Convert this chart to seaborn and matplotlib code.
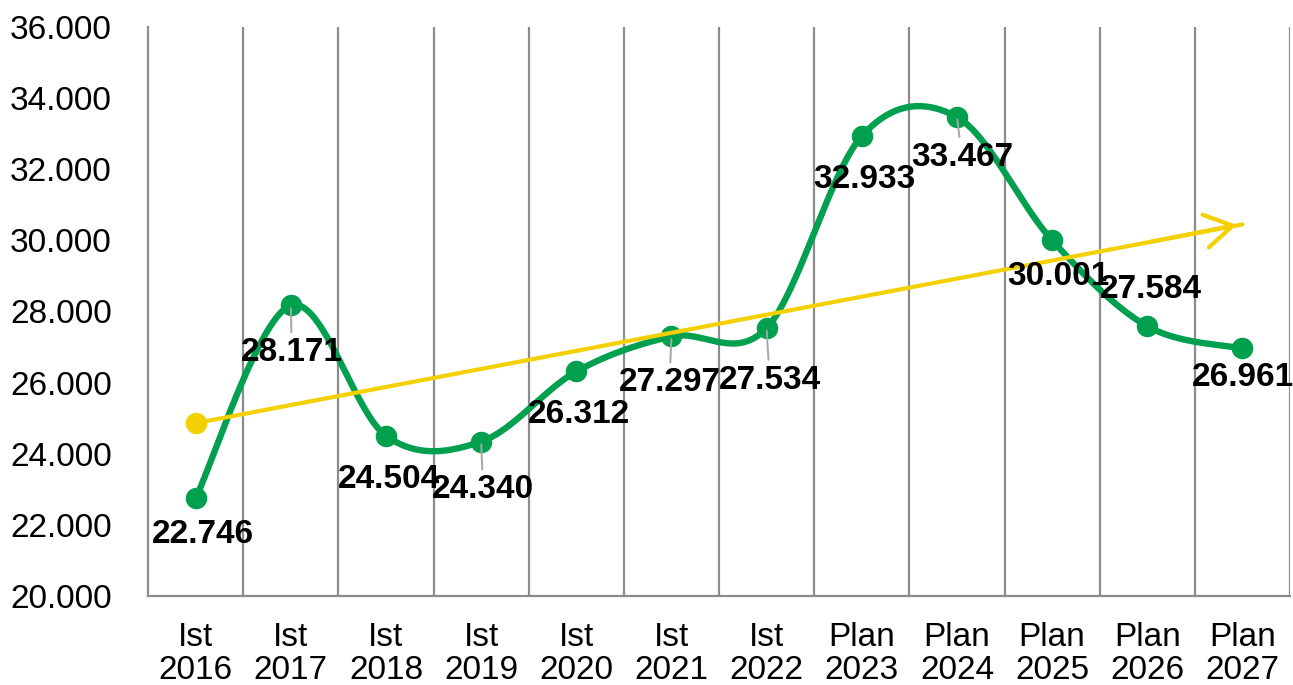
import numpy as np
import pandas as pd
import matplotlib
matplotlib.use("Agg")
import matplotlib.pyplot as plt
import seaborn as sns

# data
categories = ["Ist\n2016", "Ist\n2017", "Ist\n2018", "Ist\n2019", "Ist\n2020", "Ist\n2021",
              "Ist\n2022", "Plan\n2023", "Plan\n2024", "Plan\n2025", "Plan\n2026", "Plan\n2027"]
values = [22746, 28171, 24504, 24340, 26312, 27297, 27534, 32933, 33467, 30001, 27584, 26961]
y_ticks = [20000, 22000, 24000, 26000, 28000, 30000, 32000, 34000, 36000]

# label placement (pixels, relative to the point) and which labels get a leader line
label_offsets = [(7, -36), (1, -47), (3, -44), (2, -48), (3, -43), (-2, -46),
                 (3, -52), (3, -43), (5, -40), (6, -36), (4, 37), (0, -29)]
leader_idx = {1, 3, 5, 6, 8}

GREEN = "#00A04F"
YELLOW = "#F5D000"
GRID = "#8C8C8C"
FS = 24


def de_num(v):
    return f"{v:,.0f}".replace(",", ".")


def smooth_curve(xs, ys, n=40):
    # Excel style smoothed line: cubic bezier with catmull-rom control points
    xs = np.asarray(xs, float)
    ys = np.asarray(ys, float)
    px = np.concatenate([[xs[0]], xs, [xs[-1]]])
    py = np.concatenate([[ys[0]], ys, [ys[-1]]])
    out_x, out_y = [], []
    t = np.linspace(0, 1, n)
    for i in range(1, len(px) - 2):
        p0 = np.array([px[i], py[i]])
        p3 = np.array([px[i + 1], py[i + 1]])
        p1 = p0 + (p3 - np.array([px[i - 1], py[i - 1]])) / 6
        p2 = p3 - (np.array([px[i + 2], py[i + 2]]) - p0) / 6
        b = ((1 - t) ** 3)[:, None] * p0 + (3 * (1 - t) ** 2 * t)[:, None] * p1 \
            + (3 * (1 - t) * t ** 2)[:, None] * p2 + (t ** 3)[:, None] * p3
        out_x.extend(b[:, 0])
        out_y.extend(b[:, 1])
    return np.array(out_x), np.array(out_y)


df = pd.DataFrame({"x": np.arange(len(categories)), "value": values})

sns.set_theme(style="white")
plt.rcParams["font.family"] = ["Liberation Sans", "DejaVu Sans"]

fig = plt.figure(figsize=(12.93, 6.85), dpi=100)
ax = fig.add_axes([0.1145, 0.13, 0.8832, 0.8306])

# smoothed green line + markers
sx, sy = smooth_curve(df["x"], df["value"])
sns.lineplot(x=sx, y=sy, ax=ax, color=GREEN, linewidth=4.6, sort=False, zorder=3)
sns.scatterplot(data=df, x="x", y="value", ax=ax, color=GREEN, s=240,
                edgecolor=GREEN, linewidth=0, zorder=4)

# linear trend (yellow arrow)
slope, intercept = np.polyfit(df["x"], df["value"], 1)
tx = np.array([0, len(values) - 1])
trend = pd.DataFrame({"x": tx, "value": intercept + slope * tx})
sns.lineplot(data=trend, x="x", y="value", ax=ax, color=YELLOW, linewidth=3.0, zorder=5)
sns.scatterplot(data=trend.iloc[:1], x="x", y="value", ax=ax, color=YELLOW, s=240,
                linewidth=0, zorder=5)
ax.annotate("", xy=(tx[1] - 0.03, trend["value"].iloc[1]),
            xytext=(tx[1] - 1, trend["value"].iloc[1] - slope),
            arrowprops=dict(arrowstyle="->,head_length=1.0,head_width=0.6",
                            color=YELLOW, lw=3.0, mutation_scale=20),
            zorder=5)

# data labels
for i, v in enumerate(values):
    dx, dy = label_offsets[i]
    props = None
    if i in leader_idx:
        props = dict(arrowstyle="-", color="#A6A6A6", lw=1.4, shrinkA=1, shrinkB=2)
    ax.annotate(de_num(v), xy=(i, v), xytext=(dx, dy), textcoords="offset pixels",
                ha="center", va="center", fontsize=FS, fontweight="bold",
                color="black", arrowprops=props, zorder=6)

# axes styling
ax.set_xlim(-0.5, len(categories) - 0.5)
ax.set_ylim(20000, 36000)
ax.set_yticks(y_ticks)
ax.set_yticklabels([de_num(t) for t in y_ticks])
ax.set_xticks(range(len(categories)))
ax.set_xticklabels(categories, linespacing=1.05)
for b in np.arange(0.5, len(categories), 1.0):
    ax.axvline(b, color=GRID, linewidth=1.6, zorder=1)
ax.tick_params(axis="both", length=0, labelsize=FS, colors="black")
ax.tick_params(axis="y", pad=26)
ax.tick_params(axis="x", pad=19)
ax.set_xlabel("")
ax.set_ylabel("")
for side in ["top", "right"]:
    ax.spines[side].set_visible(False)
for side in ["left", "bottom"]:
    ax.spines[side].set_color(GRID)
    ax.spines[side].set_linewidth(1.6)

plt.savefig("out.png", dpi=100)
plt.close()
